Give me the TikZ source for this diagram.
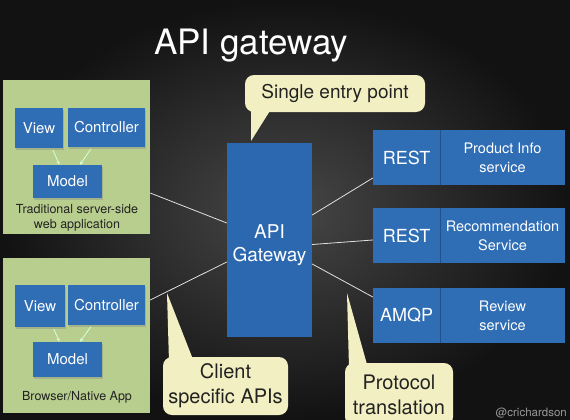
\documentclass[tikz,border=0pt]{standalone}
\usepackage{fontspec}
\setmainfont{TeX Gyre Heros}
\usetikzlibrary{shadows,arrows.meta}
\definecolor{grn}{HTML}{B8CE8F}
\definecolor{blu}{HTML}{2F6DB5}
\definecolor{gwblu}{HTML}{2C68B0}
\definecolor{pale}{HTML}{F2F0C2}
\definecolor{ink}{HTML}{222222}
\tikzset{
  panel/.style={fill=grn, inner sep=0pt},
  bbox/.style={fill=blu, text=white, inner sep=0pt, font=\fontsize{15}{17}\selectfont,
    drop shadow={shadow xshift=1pt, shadow yshift=-1.5pt, opacity=0.35}},
  capt/.style={text=ink, font=\fontsize{12.5}{15.5}\selectfont, align=center, inner sep=0pt},
  wire/.style={draw=white!88!black, line width=0.8pt},
  mvc/.style={draw=white!85!green, line width=0.8pt, -{Stealth[length=4pt,width=3.5pt]}},
  callbox/.style={fill=pale, rounded corners=9pt, text=ink, align=center, inner sep=0pt},
  svcp/.style={fill=blu, text=white, font=\fontsize{18}{20}\selectfont, minimum width=67pt,
    minimum height=55pt, inner sep=0pt},
  svcn/.style={fill=blu, text=white, font=\fontsize{14.5}{19}\selectfont, align=center,
    minimum width=125pt, minimum height=55pt, inner sep=0pt},
}
\begin{document}
\begin{tikzpicture}[x=1pt,y=-1pt]
\useasboundingbox (0,0) rectangle (570,420);
\shade[inner color=black!72, outer color=black!93] (0,0) rectangle (570,420);

% title
\node[anchor=base west, text=white, inner sep=0pt, font=\fontsize{35}{40}\selectfont] (title) at (154,55) {API gateway};

% left panels
\node[panel, minimum width=147pt, minimum height=154pt] (web) at (76.5,157) {};
\node[bbox, minimum width=48pt, minimum height=40pt] (webview) at (39,128) {View};
\node[bbox, minimum width=77pt, minimum height=39pt] (webctrl) at (106.5,127.5) {Controller};
\node[bbox, minimum width=69pt, minimum height=33pt] (webmodel) at (67.5,181.5) {Model};
\node[capt] (webtxt) at (77,218) {Traditional server-side\\web application};
\draw[mvc, shorten <=2pt] ([xshift=13pt]webview.south) -- ([xshift=-8pt]webmodel.north);
\draw[mvc, shorten <=2pt] ([xshift=-14.5pt]webctrl.south) -- ([xshift=12.5pt]webmodel.north);

\node[panel, minimum width=147pt, minimum height=155pt] (app) at (76.5,335.5) {};
\node[bbox, minimum width=50pt, minimum height=42pt] (appview) at (40,306) {View};
\node[bbox, minimum width=77pt, minimum height=40pt] (appctrl) at (106.5,305) {Controller};
\node[bbox, minimum width=69pt, minimum height=35pt] (appmodel) at (67.5,359.5) {Model};
\node[capt] (apptxt) at (77,397) {Browser/Native App};
\draw[mvc, shorten <=2pt] ([xshift=13pt]appview.south) -- ([xshift=-8pt]appmodel.north);
\draw[mvc, shorten <=2pt] ([xshift=-14.5pt]appctrl.south) -- ([xshift=12.5pt]appmodel.north);

% gateway
\node[fill=gwblu, minimum width=85pt, minimum height=194pt, inner sep=0pt] (gw) at (269.5,240) {};
\node[text=white, align=center, inner sep=0pt, font=\fontsize{19}{23}\selectfont] (gwtxt) at (269.5,245) {API\\Gateway};

% services
\node[svcp] (s1p) at (406.5,157.5) {REST};
\node[svcn] (s1n) at (502.5,157.5) {Product Info\\service};
\node[svcp] (s2p) at (406.5,235.5) {REST};
\node[svcn] (s2n) at (502.5,235.5) {Recommendation\\Service};
\node[svcp] (s3p) at (406.5,315.5) {AMQP};
\node[svcn] (s3n) at (502.5,315.5) {Review\\service};
\foreach \s in {s1p,s2p,s3p}{
  \draw[blu!75!black, line width=0.6pt] (\s.north east) -- (\s.south east);
}

% connectors
\draw[wire] ([yshift=-36pt]web.east) -- ([yshift=17pt]gw.west);
\draw[wire] ([yshift=35.5pt]app.east) -- ([yshift=-22pt]gw.west);
\draw[wire] ([yshift=25pt]gw.east) -- ([yshift=-20.5pt]s1p.west);
\draw[wire] ([yshift=-4.5pt]gw.east) -- ([yshift=-4.5pt]s2p.west);
\draw[wire] ([yshift=-24pt]gw.east) -- ([yshift=18.5pt]s3p.west);

% callouts
\node[callbox, minimum width=180pt, minimum height=37pt, font=\fontsize{19}{22}\selectfont] (entry) at (335,93.5) {Single entry point};
\coordinate (entrytip) at (251,141);
\fill[pale] (251,106) -- (273,106) -- (entrytip) -- cycle;

\node[callbox, minimum width=125pt, minimum height=58pt, font=\fontsize{20}{25}\selectfont] (client) at (225.5,386) {Client\\specific APIs};
\coordinate (clienttip) at (167,293);
\fill[pale] (169,362) -- (194,362) -- (clienttip) -- cycle;

\node[callbox, minimum width=108pt, minimum height=63pt, font=\fontsize{20}{25}\selectfont] (proto) at (399,394.5) {Protocol\\translation};
\coordinate (prototip) at (347,293);
\fill[pale] (349,368) -- (368,368) -- (prototip) -- cycle;

% credit
\node[anchor=base east, text=white!60!black, inner sep=0pt, font=\fontsize{11.5}{13}\selectfont] (credit) at (567,416) {@crichardson};
\end{tikzpicture}
\end{document}
